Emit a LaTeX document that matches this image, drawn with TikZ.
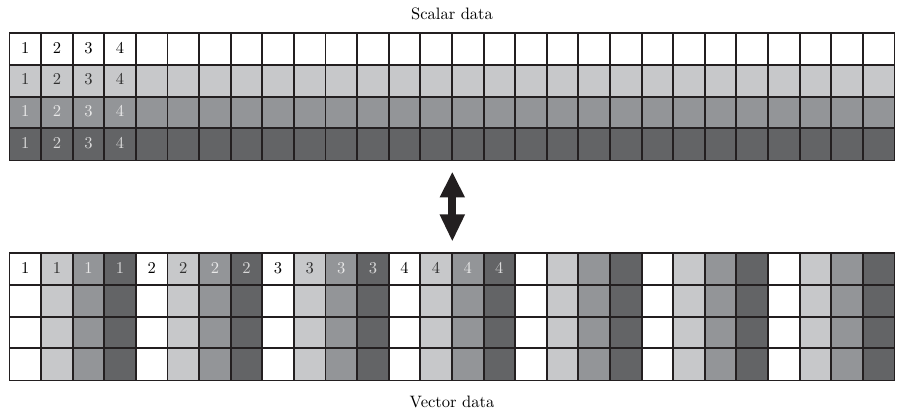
\documentclass[tikz,border=0pt]{standalone}
\usetikzlibrary{arrows.meta}
\definecolor{shadeA}{HTML}{FFFFFF}
\definecolor{shadeB}{HTML}{C7C8CA}
\definecolor{shadeC}{HTML}{939598}
\definecolor{shadeD}{HTML}{636466}
\definecolor{txtA}{HTML}{000000}
\definecolor{txtB}{HTML}{303030}
\definecolor{txtC}{HTML}{E8E8E8}
\definecolor{txtD}{HTML}{D8D8D8}
\definecolor{ink}{HTML}{231F20}
\tikzset{
  cell/.style={inner sep=0pt, minimum width=19.12pt, minimum height=19.16pt, font=\fontsize{10}{12}\selectfont},
  cellborder/.style={draw=ink, line width=0.8pt},
  title/.style={inner sep=0pt, font=\fontsize{10}{12}\selectfont},
  bigarrow/.style={draw=ink, line width=4.66pt, {Triangle[width=14.1pt,length=15.5pt]}-{Triangle[width=14.1pt,length=16.5pt]}}
}
\newcommand{\shadename}[1]{\ifcase#1 A\or B\or C\or D\fi}
\begin{document}
\begin{tikzpicture}[x=0.605pt, y=-0.605pt]
\useasboundingbox (0,0) rectangle (897,413);
% scalar grid
\foreach \r in {1,...,4} {
  \foreach \c in {1,...,28} {
    \pgfmathtruncatemacro\sh{\r-1}
    \edef\sn{\shadename{\sh}}
    \node[cell, fill=shade\sn, text=txt\sn] (s-\r-\c) at ({9.5+31.6*(\c-0.5)}, {33.3+31.67*(\r-0.5)}) {\ifnum\c<5 \c\fi\strut};
  }
}
% vector grid
\foreach \r in {1,...,4} {
  \foreach \c in {1,...,28} {
    \pgfmathtruncatemacro\sh{mod(\c-1,4)}
    \pgfmathtruncatemacro\dg{div(\c-1,4)+1}
    \edef\sn{\shadename{\sh}}
    \node[cell, fill=shade\sn, text=txt\sn] (v-\r-\c) at ({9.5+31.6*(\c-0.5)}, {253.3+31.67*(\r-0.5)}) {\ifnum\r=1 \ifnum\c<17 \dg\fi\fi\strut};
  }
}
% cell borders drawn after all fills
\foreach \r in {1,...,4} {
  \foreach \c in {1,...,28} {
    \draw[cellborder] (s-\r-\c.north west) rectangle (s-\r-\c.south east);
    \draw[cellborder] (v-\r-\c.north west) rectangle (v-\r-\c.south east);
  }
}
\node[title] (scalar) at (452,13.5) {Scalar data};
\node[title] (vector) at (452,402) {Vector data};
\coordinate (atop) at (452.3,171.7);
\coordinate (abot) at (452.3,241.7);
\draw[bigarrow] (atop) -- (abot);
\end{tikzpicture}
\end{document}
